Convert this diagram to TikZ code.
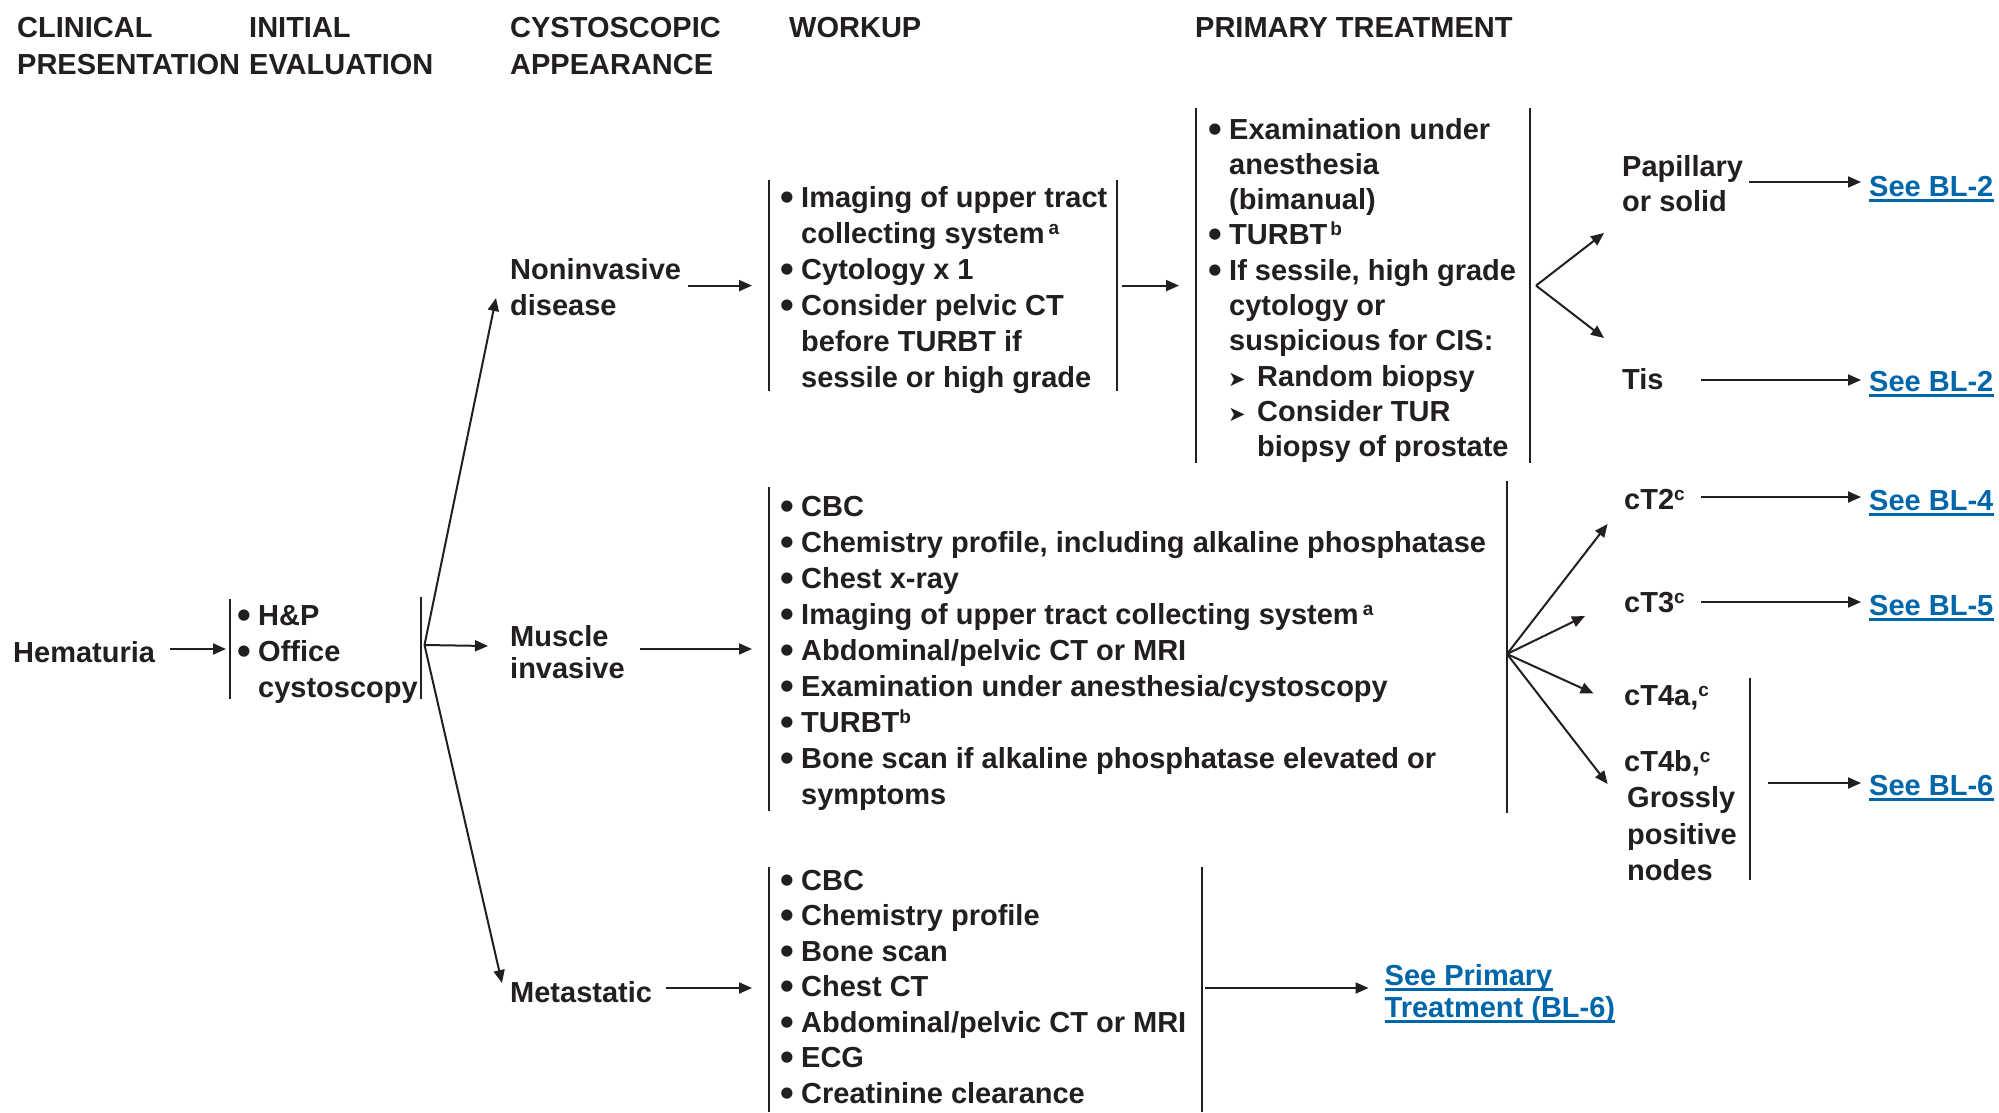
\documentclass[tikz,border=0pt]{standalone}
\usepackage{graphicx}
\usepackage{fontspec}
\setmainfont{Liberation Sans}
\newfontfamily\dejavu{DejaVu Sans}
\usetikzlibrary{arrows.meta}
\definecolor{ink}{HTML}{231F20}
\definecolor{linkblue}{HTML}{0066AA}
\newcommand\bu{\makebox[13pt][l]{\hspace*{-8pt}\raisebox{-3pt}{\scalebox{1.35}{•}}}}
\newcommand\ind{\hspace*{13pt}}
\newcommand\supr[1]{\raisebox{9pt}{\fontsize{19}{19}\selectfont #1}}
\newcommand\tri{\makebox[29pt][l]{\dejavu\mdseries\fontsize{21}{21}\selectfont ➤}}
\newcommand\lines[1]{\begin{tabular}[t]{@{}l@{}}#1\end{tabular}}
\begin{document}
\begin{tikzpicture}[x=1pt,y=-1pt,
  txt/.style={inner sep=0pt, anchor=base west, text=ink, font=\bfseries\fontsize{29}{36}\selectfont},
  link/.style={txt, text=linkblue},
  arr/.style={draw=ink, line width=2pt, -{Triangle[length=13pt,width=11pt]}},
  bar/.style={draw=ink, line width=2pt},
  uline/.style={draw=linkblue, line width=2.2pt}]
\useasboundingbox[fill=white] (0,0) rectangle (1999,1112);

% headers
\node[txt, font=\bfseries\fontsize{29}{37}\selectfont] (h1) at (17,37) {\lines{CLINICAL\\PRESENTATION}};
\node[txt, font=\bfseries\fontsize{29}{37}\selectfont] (h2) at (249,37) {\lines{INITIAL\\EVALUATION}};
\node[txt, font=\bfseries\fontsize{29}{37}\selectfont] (h3) at (510,37) {\lines{CYSTOSCOPIC\\APPEARANCE}};
\node[txt] (h4) at (789,37) {WORKUP};
\node[txt] (h5) at (1195,37) {PRIMARY TREATMENT};

% clinical presentation / initial evaluation
\node[txt] (hem) at (13,662) {Hematuria};
\node[txt] (ie) at (245,625) {\lines{\bu H\&P\\\bu Office\\\ind cystoscopy}};
\coordinate (ieLt) at (229.5,599); \coordinate (ieLb) at (229.5,699);
\coordinate (ieRt) at (421,597);   \coordinate (ieRb) at (421,699);
\draw[bar] (ieLt) -- (ieLb);
\draw[bar] (ieRt) -- (ieRb);
\coordinate (hemOut) at (170,649);
\coordinate (ieIn) at (226,649);
\draw[arr] (hemOut) -- (ieIn);

% fork to cystoscopic appearance
\coordinate (f1) at (424.5,645);
\coordinate (nonIn) at (496,298);
\coordinate (musIn) at (488,646);
\coordinate (metIn) at (502,983);
\draw[arr] (f1) -- (nonIn);
\draw[arr] (f1) -- (musIn);
\draw[arr] (f1) -- (metIn);

% cystoscopic appearance
\node[txt] (non) at (510,279) {\lines{Noninvasive\\disease}};
\node[txt, font=\bfseries\fontsize{29}{32}\selectfont] (mus) at (510,646) {\lines{Muscle\\invasive}};
\node[txt] (met) at (510,1002) {Metastatic};

% noninvasive workup
\coordinate (wnLt) at (768.8,180); \coordinate (wnLb) at (768.8,391);
\coordinate (wnRt) at (1116.8,180); \coordinate (wnRb) at (1116.8,391);
\draw[bar] (wnLt) -- (wnLb);
\draw[bar] (wnRt) -- (wnRb);
\node[txt] (wn) at (788,207.6) {\lines{\bu Imaging of upper tract\\\ind collecting system\hspace{4pt}\supr{a}\\\bu Cytology x 1\\\bu Consider pelvic CT\\\ind before TURBT if\\\ind sessile or high grade}};
\coordinate (nonOut) at (688,285.6);
\coordinate (wnIn) at (752,285.6);
\draw[arr] (nonOut) -- (wnIn);
\coordinate (wnOut) at (1122,285.6);
\coordinate (ptIn) at (1179,285.6);
\draw[arr] (wnOut) -- (ptIn);

% primary treatment (noninvasive)
\coordinate (ptLt) at (1196,108); \coordinate (ptLb) at (1196,463);
\coordinate (ptRt) at (1530,108); \coordinate (ptRb) at (1530,463);
\draw[bar] (ptLt) -- (ptLb);
\draw[bar] (ptRt) -- (ptRb);
\node[txt, font=\bfseries\fontsize{29}{35.3}\selectfont] (pt) at (1216,139) {\lines{\bu Examination under\\\ind anesthesia\\\ind (bimanual)\\\bu TURBT\hspace{3pt}\supr{b}\\\bu If sessile, high grade\\\ind cytology or\\\ind suspicious for CIS:\\\hspace*{12pt}\tri Random biopsy\\\hspace*{12pt}\tri Consider TUR\\\hspace*{41pt}biopsy of prostate}};

\coordinate (b1) at (1536,285.6);
\coordinate (papIn) at (1604,233);
\coordinate (tisIn) at (1604,338);
\draw[arr] (b1) -- (papIn);
\draw[arr] (b1) -- (tisIn);

\node[txt, font=\bfseries\fontsize{29}{35}\selectfont] (pap) at (1622,176) {\lines{Papillary\\or solid}};
\node[txt] (tis) at (1622,389) {Tis};
\node[link] (bl2a) at (1869,196) {See BL-2};
\node[link] (bl2b) at (1869,391) {See BL-2};
\coordinate (papOut) at (1749,182);
\draw[arr] (papOut) -- ([xshift=-8pt]papOut -| bl2a.west);
\coordinate (tisOut) at (1701,380);
\draw[arr] (tisOut) -- ([xshift=-8pt]tisOut -| bl2b.west);

% muscle invasive workup
\coordinate (wmLt) at (768.8,487); \coordinate (wmLb) at (768.8,811);
\coordinate (wmRt) at (1507,481);  \coordinate (wmRb) at (1507,813);
\draw[bar] (wmLt) -- (wmLb);
\draw[bar] (wmRt) -- (wmRb);
\node[txt] (wm) at (788,516) {\lines{\bu CBC\\\bu Chemistry profile, including alkaline phosphatase\\\bu Chest x-ray\\\bu Imaging of upper tract collecting system\hspace{4pt}\supr{a}\\\bu Abdominal/pelvic CT or MRI\\\bu Examination under anesthesia/cystoscopy\\\bu TURBT\supr{b}\\\bu Bone scan if alkaline phosphatase elevated or\\\ind symptoms}};
\coordinate (musOut) at (640,649);
\coordinate (wmIn) at (752,649);
\draw[arr] (musOut) -- (wmIn);

\coordinate (f2) at (1507,654);
\coordinate (t2In) at (1607.6,524);
\coordinate (t3In) at (1585,616);
\coordinate (t4aIn) at (1593.6,693.5);
\coordinate (t4bIn) at (1607.6,784);
\draw[arr] (f2) -- (t2In);
\draw[arr] (f2) -- (t3In);
\draw[arr] (f2) -- (t4aIn);
\draw[arr] (f2) -- (t4bIn);

\node[txt] (t2) at (1624,509) {cT2\supr{c}};
\node[txt] (t3) at (1624,612) {cT3\supr{c}};
\node[txt] (t4a) at (1624,705) {cT4a,\supr{c}};
\node[txt, font=\bfseries\fontsize{29}{36.5}\selectfont] (t4b) at (1624,771) {\lines{cT4b,\supr{c}\\\hspace*{3pt}Grossly\\\hspace*{3pt}positive\\\hspace*{3pt}nodes}};
\coordinate (t4Rt) at (1750,678); \coordinate (t4Rb) at (1750,880);
\draw[bar] (t4Rt) -- (t4Rb);

\node[link] (bl4) at (1869,510) {See BL-4};
\node[link] (bl5) at (1869,615) {See BL-5};
\node[link] (bl6) at (1869,795) {See BL-6};
\coordinate (t2Out) at (1701,497);
\draw[arr] (t2Out) -- ([xshift=-8pt]t2Out -| bl4.west);
\coordinate (t3Out) at (1701,602);
\draw[arr] (t3Out) -- ([xshift=-8pt]t3Out -| bl5.west);
\coordinate (t4Out) at (1768,783);
\draw[arr] (t4Out) -- ([xshift=-8pt]t4Out -| bl6.west);

% metastatic workup
\coordinate (wtLt) at (768.8,867); \coordinate (wtLb) at (768.8,1112);
\coordinate (wtRt) at (1202,867);  \coordinate (wtRb) at (1202,1112);
\draw[bar] (wtLt) -- (wtLb);
\draw[bar] (wtRt) -- (wtRb);
\node[txt, font=\bfseries\fontsize{29}{35.5}\selectfont] (wt) at (788,890) {\lines{\bu CBC\\\bu Chemistry profile\\\bu Bone scan\\\bu Chest CT\\\bu Abdominal/pelvic CT or MRI\\\bu ECG\\\bu Creatinine clearance}};
\coordinate (metOut) at (665.5,988);
\coordinate (wtIn) at (752,988);
\draw[arr] (metOut) -- (wtIn);

\node[link] (sp1) at (1384.5,985) {See Primary};
\node[link] (sp2) at (1384.5,1017) {Treatment (BL-6)};
\coordinate (wtOut) at (1205,988);
\draw[arr] (wtOut) -- ([xshift=-16pt]wtOut -| sp1.west);

% underlines of links
\foreach \n in {bl2a,bl2b,bl4,bl5,bl6,sp1,sp2}{
  \draw[uline] ([yshift=-4.5pt]\n.base west) -- ([yshift=-4.5pt]\n.base east);
}
\end{tikzpicture}
\end{document}
